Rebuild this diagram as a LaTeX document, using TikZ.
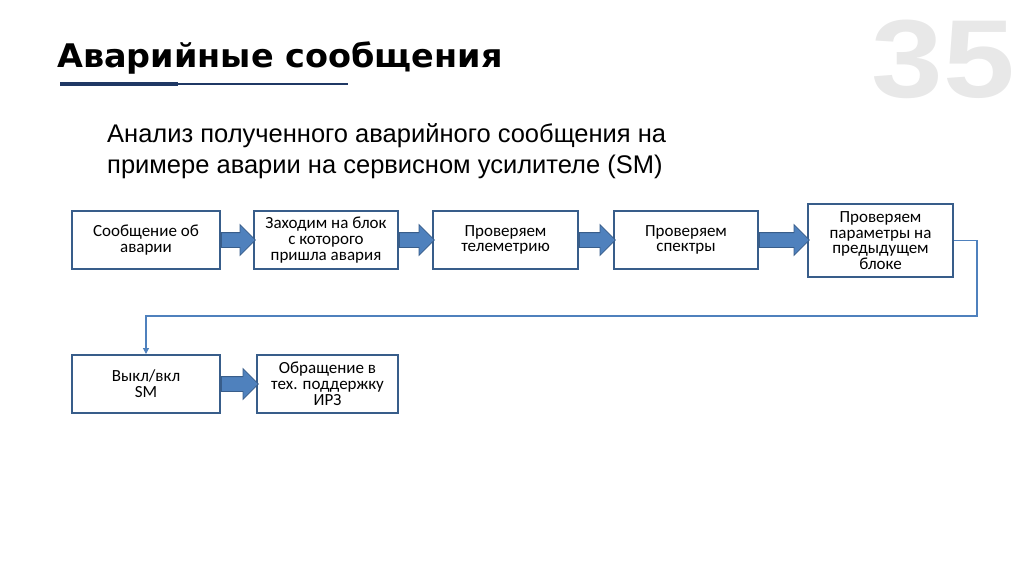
\documentclass[tikz,border=0pt]{standalone}
\usepackage{fontspec}
\setmainfont{Carlito}
\newfontfamily\arialfont{Liberation Sans}
\newfontfamily\titlefont{DejaVu Sans Bold}[FakeStretch=1.03]
\newfontfamily\nomerfont{Liberation Sans Bold}[FakeStretch=1.16]
\usetikzlibrary{shapes.arrows, positioning, arrows.meta}
\definecolor{ramka}{HTML}{385D8A}
\definecolor{zalivka}{HTML}{4F81BD}
\definecolor{temnosin}{HTML}{1F3864}
\definecolor{seryj}{HTML}{E8E8E8}
\tikzset{
  blokbox/.style={draw=ramka, line width=2pt, fill=white, align=center,
    font=\fontsize{17}{15.8}\selectfont, inner sep=2pt},
  fatarrow/.style={single arrow, draw=ramka, fill=zalivka, line width=0.8pt,
    inner sep=7pt, single arrow head extend=8pt, anchor=tail},
}
\begin{document}
\begin{tikzpicture}[x=1pt, y=-1pt]
    \useasboundingbox (0,0) rectangle (1024,574);
    %nomer slajda
    \node[anchor=base east, inner sep=0, text=seryj, font=\nomerfont\fontsize{111}{111}\selectfont] (nomer) at (1015,97) {35};
    %zagolovok
    \node[anchor=base west, inner sep=0, font=\titlefont\fontsize{32.5}{32.5}\selectfont] (zagolovok) at (57,67) {Аварийные сообщения};
    \draw[temnosin, line width=4pt] (60,84) -- (178,84);
    \draw[temnosin, line width=1.2pt] (178,84) -- (348,84);
    %podzagolovok
    \node[anchor=base west, inner sep=0, align=left, font=\arialfont\fontsize{25.5}{31}\selectfont] (podzag) at (107,173) {Анализ полученного аварийного сообщения на\\примере аварии на сервисном усилителе (SM)};
    %bloki verhnego rjada
    \node[blokbox, minimum width=148pt, minimum height=58pt] (soob) at (146,240) {Сообщение об\\аварии};
    \node[blokbox, minimum width=144pt, minimum height=58pt] (blok) at (326,240) {Заходим на блок\\с которого\\пришла авария};
    \node[blokbox, minimum width=145pt, minimum height=58pt] (telem) at (505.5,240) {Проверяем\\телеметрию};
    \node[blokbox, minimum width=144pt, minimum height=58pt] (spektr) at (686,240) {Проверяем\\спектры};
    \node[blokbox, minimum width=145pt, minimum height=73pt] (param) at (880.5,240.5) {Проверяем\\параметры на\\предыдущем\\блоке};
    %bloki nizhnego rjada
    \node[blokbox, minimum width=148pt, minimum height=58pt] (vykl) at (146,384) {Выкл/вкл\\SM};
    \node[blokbox, minimum width=141pt, minimum height=58pt] (obrasch) at (327.5,384) {Обращение в\\тех. поддержку\\ИРЗ};
    %tolstye strelki
    \node[fatarrow, minimum height=34pt] (s1) at (soob.east) {};
    \node[fatarrow, minimum height=35pt] (s2) at (blok.east) {};
    \node[fatarrow, minimum height=36pt] (s3) at (telem.east) {};
    \node[fatarrow, minimum height=50pt] (s4) at (spektr.east) {};
    \node[fatarrow, minimum height=37pt] (s5) at (vykl.east) {};
    %perehod na vtoroj rjad
    \coordinate (povorot) at (977,316);
    \draw[zalivka, line width=1.2pt, -{Triangle[width=6pt,length=6pt]}] (param.east) -| (povorot) -| (vykl.north);
\end{tikzpicture}
\end{document}
